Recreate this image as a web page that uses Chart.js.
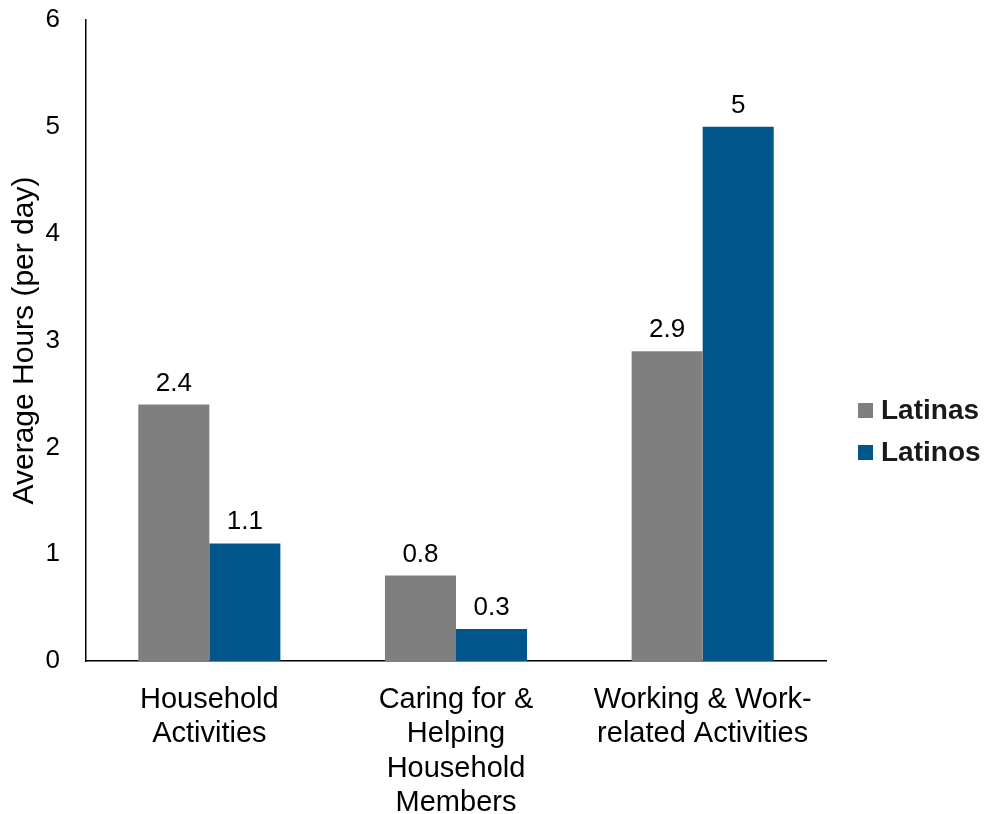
<!DOCTYPE html>
<html>
<head>
<meta charset="utf-8">
<script src="https://cdn.jsdelivr.net/npm/chart.js@4.4.1/dist/chart.umd.min.js"></script>
<style>
html,body{margin:0;padding:0;background:#fff;}
#wrap{width:987px;height:814px;}
</style>
</head>
<body>
<div id="wrap"><canvas id="c" width="987" height="814"></canvas></div>
<script>
const categories = [
  ["Household", "Activities"],
  ["Caring for &", "Helping", "Household", "Members"],
  ["Working & Work-", "related Activities"]
];
const latinas = [2.4, 0.8, 2.9];
const latinos = [1.1, 0.3, 5];
const yTicks = [0, 1, 2, 3, 4, 5, 6];
const seriesNames = ["Latinas", "Latinos"];
const FONT = "'Liberation Sans', Arial, sans-serif";

const valueLabels = {
  id: 'valueLabels',
  afterDatasetsDraw(chart) {
    const ctx = chart.ctx;
    ctx.save();
    ctx.font = "26px " + FONT;
    ctx.fillStyle = '#000';
    ctx.textAlign = 'center';
    ctx.textBaseline = 'alphabetic';
    chart.data.datasets.forEach((ds, i) => {
      const meta = chart.getDatasetMeta(i);
      meta.data.forEach((bar, j) => {
        ctx.fillText(String(ds.data[j]), bar.x, bar.y - 14);
      });
    });
    ctx.restore();
  }
};

const sideLegend = {
  id: 'sideLegend',
  afterDraw(chart) {
    const ctx = chart.ctx;
    ctx.save();
    ctx.font = "bold 28px " + FONT;
    ctx.textBaseline = 'middle';
    ctx.textAlign = 'left';
    const x0 = chart.chartArea.right + 32;
    const yStart = 410, step = 42;
    chart.data.datasets.forEach((ds, i) => {
      const y = yStart + i * step;
      ctx.fillStyle = ds.backgroundColor;
      ctx.fillRect(x0, y - 7, 15, 15);
      ctx.fillStyle = '#1a1a1a';
      ctx.fillText(ds.label, x0 + 23, y + 1);
    });
    ctx.restore();
  }
};

new Chart(document.getElementById('c'), {
  type: 'bar',
  data: {
    labels: categories,
    datasets: [
      { label: seriesNames[0], data: latinas, backgroundColor: '#7F7F7F', categoryPercentage: 0.576, barPercentage: 1.0 },
      { label: seriesNames[1], data: latinos, backgroundColor: '#00558A', categoryPercentage: 0.576, barPercentage: 1.0 }
    ]
  },
  options: {
    responsive: false,
    devicePixelRatio: 1,
    animation: false,
    layout: { padding: { top: 20, left: 0, right: 161, bottom: 0 } },
    plugins: {
      legend: { display: false },
      tooltip: { enabled: false }
    },
    scales: {
      x: {
        grid: { display: false },
        border: { display: true, color: '#000', width: 1.5 },
        ticks: { color: '#000', padding: 14, maxRotation: 0, autoSkip: false,
                 font: { family: FONT, size: 29, lineHeight: 1.18 } },
        afterFit(axis) { axis.height = 814 - 661; axis.paddingTop = 0; axis.paddingBottom = 0; }
      },
      y: {
        min: 0, max: 6,
        afterBuildTicks(axis) { axis.ticks = yTicks.map(v => ({ value: v })); },
        grid: { display: false },
        border: { display: true, color: '#000', width: 1.5 },
        ticks: { color: '#000', padding: 18, font: { family: FONT, size: 26 } },
        title: { display: true, text: 'Average Hours (per day)', color: '#000',
                 font: { family: FONT, size: 30 }, padding: { top: 7, bottom: 0 } },
        afterFit(axis) { axis.width = 86; axis.paddingTop = 0; axis.paddingBottom = 0; }
      }
    }
  },
  plugins: [valueLabels, sideLegend]
});
</script>
</body>
</html>
